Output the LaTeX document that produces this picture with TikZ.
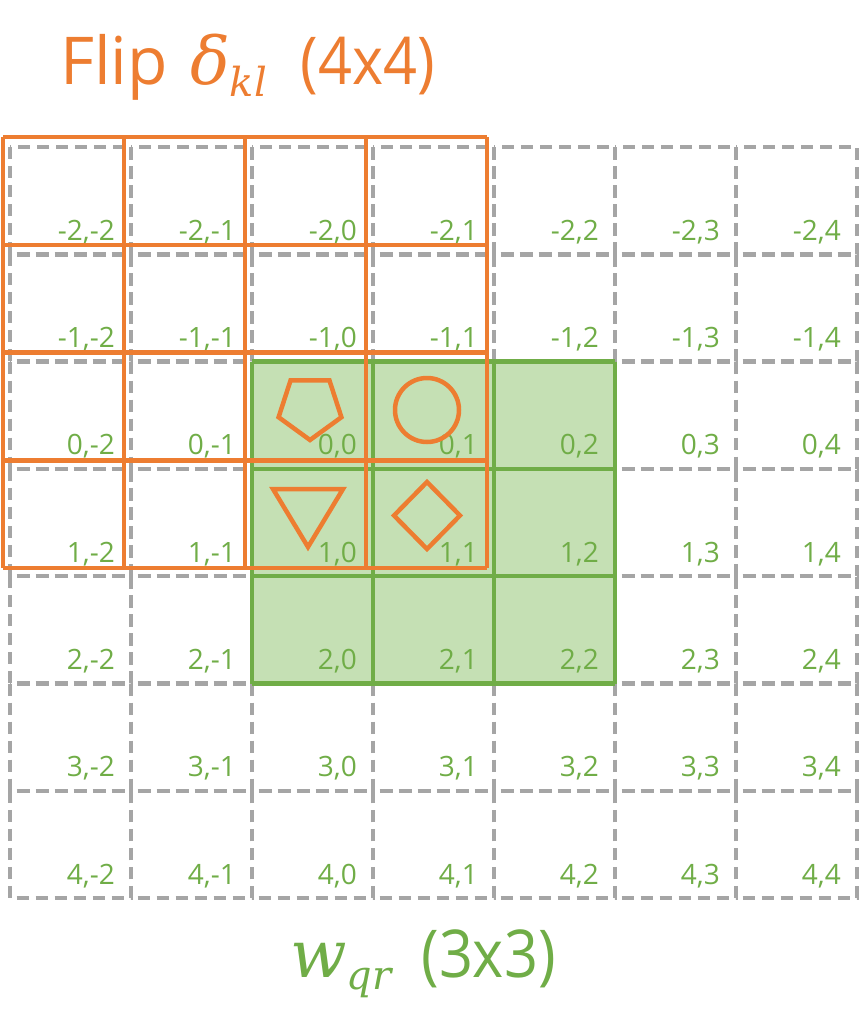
\RequirePackage{fix-cm}
\documentclass[tikz,border=0pt]{standalone}
\usepackage{fontspec}
\setmainfont{Open Sans}
\newfontfamily\varfont{DejaVu Serif}
\newfontfamily\numfont{Open Sans}[FakeStretch=0.9]
\usetikzlibrary{calc}

\definecolor{fliporange}{HTML}{ED7D31}
\definecolor{wgreen}{HTML}{70AD47}
\definecolor{wfill}{HTML}{C5E0B4}
\definecolor{gridgray}{HTML}{A5A5A5}

% italic symbol with a lowered index
\newcommand{\symsub}[2]{{\varfont\itshape #1\raisebox{-12pt}{\fontsize{40}{42}\selectfont #2}}}

\begin{document}
\begin{tikzpicture}[x=1pt, y=-1pt,
    grayline/.style={gridgray, line width=4.5pt, dash pattern=on 12pt off 7pt},
    flipline/.style={fliporange, line width=4.5pt, line join=miter},
    wline/.style={wgreen, line width=4.5pt},
    idx/.style={anchor=base east, inner sep=0pt, text=wgreen, font=\fontsize{28}{30}\selectfont},
    caption/.style={anchor=base west, inner sep=0pt, font=\fontsize{66}{72}\selectfont}]
    \useasboundingbox (0,0) rectangle (862,1031);

    % dashed index grid, one box per cell
    \foreach \i in {-2,...,4}
      \foreach \j in {-2,...,4}
        \draw[grayline] ({10+(\j+2)*121},{147+(\i+2)*107.3}) rectangle +(121,107.3);

    % kernel w (3x3)
    \fill[wfill] (252,361.6) rectangle (615,683.5);
    \foreach \k in {0,...,3} {
      \draw[wline] ({252+\k*121},361.6) -- ({252+\k*121},683.5);
      \draw[wline] (252,{361.6+\k*107.3}) -- (615,{361.6+\k*107.3});
    }

    % cell indices
    \foreach \i in {-2,...,4}
      \foreach \j in {-2,...,4}
        \node[idx] (lbl\i\j) at ({10+(\j+3)*121-16},{147+(\i+3)*107.3-14}) {\i,\j};

    % flipped delta (4x4)
    \foreach \k in {0,...,4} {
      \draw[flipline] ({3+\k*121},137) -- ({3+\k*121},568);
      \draw[flipline] (3,{137+\k*107.75}) -- (487,{137+\k*107.75});
    }

    % symbols
    \draw[flipline] (310,440) -- (341.4,417.2) -- (329.4,380.3) -- (290.6,380.3) -- (278.6,417.2) -- cycle;
    \draw[flipline] (427,410) circle (32);
    \draw[flipline] (273,489) -- (343,489) -- (308,547) -- cycle;
    \draw[flipline] (427,482) -- (460,515.5) -- (427,549) -- (394,515.5) -- cycle;

    % captions
    \node[caption, text=fliporange] (fliptitle) at (60,84)
      {Flip\hspace{22pt}\symsub{δ}{kl}\hspace{34pt}{\numfont(4x4)}};
    \node[caption, text=wgreen] (wtitle) at (290,977)
      {\symsub{w}{qr}\hspace{30pt}{\numfont(3x3)}};

\end{tikzpicture}
\end{document}
